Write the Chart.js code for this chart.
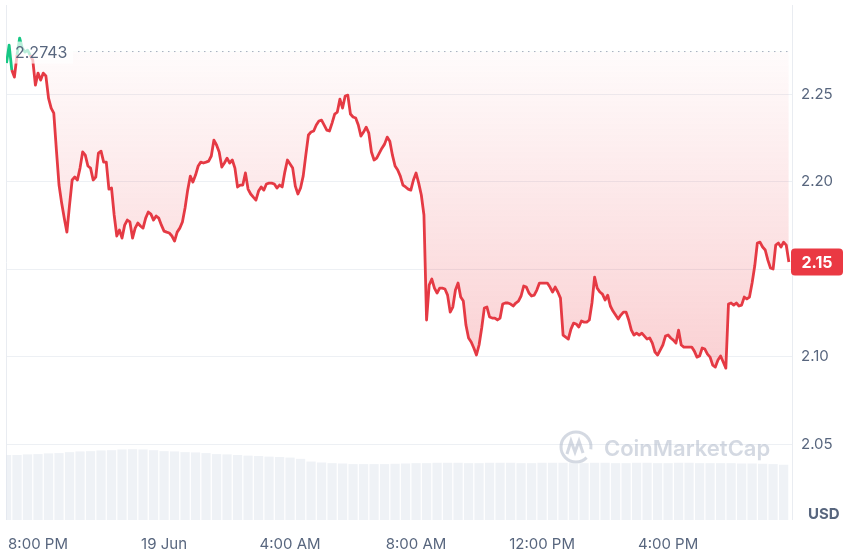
<!DOCTYPE html>
<html>
<head>
<meta charset="utf-8">
<script src="https://cdn.jsdelivr.net/npm/chart.js@4.4.1/dist/chart.umd.min.js"></script>
<style>
  html, body { margin: 0; padding: 0; background: #fff; }
  #wrap { width: 847px; height: 555px; position: relative; }
</style>
</head>
<body>
<div id="wrap"><canvas id="priceChart"></canvas></div>
<script>
// Price chart, 18 Jun 19:00 -> 19 Jun 19:50, 5 min steps
const BASE_PRICE = 2.2743;
const START_MIN = 1140;     // minutes from 18 Jun 00:00
const STEP_MIN = 5;
const VOL_STEP_MIN = 20;

const prices = [
  2.2677, 2.2780, 2.2637, 2.2597, 2.2723, 2.2820, 2.2763, 2.2740, 2.2751, 2.2723,
  2.2694, 2.2551, 2.2620, 2.2580, 2.2620, 2.2603, 2.2477, 2.2420, 2.2391, 2.2180,
  2.1980, 2.1877, 2.1791, 2.1711, 2.1866, 2.2009, 2.2026, 2.2009, 2.2077, 2.2169,
  2.2151, 2.2089, 2.2077, 2.2009, 2.2026, 2.2163, 2.2174, 2.2111, 2.2111, 2.1957,
  2.1963, 2.1809, 2.1689, 2.1723, 2.1677, 2.1751, 2.1780, 2.1769, 2.1677, 2.1734,
  2.1763, 2.1746, 2.1734, 2.1791, 2.1826, 2.1814, 2.1780, 2.1803, 2.1791, 2.1751,
  2.1717, 2.1711, 2.1706, 2.1689, 2.1660, 2.1711, 2.1734, 2.1769, 2.1849, 2.1951,
  2.2031, 2.1997, 2.2037, 2.2089, 2.2111, 2.2106, 2.2111, 2.2117, 2.2146, 2.2237,
  2.2209, 2.2169, 2.2083, 2.2106, 2.2134, 2.2106, 2.2123, 2.2077, 2.1969, 2.1980,
  2.1980, 2.2049, 2.1957, 2.1929, 2.1911, 2.1894, 2.1946, 2.1969, 2.1951, 2.1986,
  2.1991, 2.1991, 2.1986, 2.1963, 2.1980, 2.1969, 2.2054, 2.2123, 2.2100, 2.2077,
  2.1974, 2.1929, 2.1963, 2.2031, 2.2151, 2.2266, 2.2283, 2.2289, 2.2323, 2.2346,
  2.2351, 2.2323, 2.2294, 2.2289, 2.2334, 2.2386, 2.2397, 2.2471, 2.2420, 2.2489,
  2.2494, 2.2386, 2.2369, 2.2363, 2.2323, 2.2260, 2.2283, 2.2311, 2.2277, 2.2169,
  2.2123, 2.2134, 2.2163, 2.2191, 2.2214, 2.2254, 2.2231, 2.2151, 2.2089, 2.2066,
  2.2031, 2.1980, 2.1969, 2.1957, 2.1951, 2.2009, 2.2049, 2.1991, 2.1923, 2.1809,
  2.1209, 2.1409, 2.1443, 2.1391, 2.1363, 2.1391, 2.1391, 2.1386, 2.1351, 2.1254,
  2.1283, 2.1380, 2.1420, 2.1340, 2.1317, 2.1180, 2.1106, 2.1083, 2.1049, 2.1009,
  2.1066, 2.1163, 2.1277, 2.1283, 2.1226, 2.1220, 2.1220, 2.1209, 2.1220, 2.1300,
  2.1306, 2.1306, 2.1300, 2.1289, 2.1306, 2.1317, 2.1346, 2.1403, 2.1397, 2.1363,
  2.1346, 2.1351, 2.1380, 2.1420, 2.1420, 2.1420, 2.1420, 2.1397, 2.1369, 2.1397,
  2.1369, 2.1334, 2.1123, 2.1111, 2.1100, 2.1157, 2.1191, 2.1186, 2.1169, 2.1203,
  2.1197, 2.1197, 2.1209, 2.1306, 2.1454, 2.1391, 2.1369, 2.1357, 2.1323, 2.1351,
  2.1289, 2.1260, 2.1237, 2.1214, 2.1237, 2.1254, 2.1254, 2.1209, 2.1151, 2.1123,
  2.1134, 2.1123, 2.1134, 2.1117, 2.1100, 2.1106, 2.1077, 2.1026, 2.1009, 2.1037,
  2.1066, 2.1117, 2.1123, 2.1106, 2.1094, 2.1077, 2.1151, 2.1066, 2.1054, 2.1054,
  2.1054, 2.1054, 2.1031, 2.0997, 2.1003, 2.1049, 2.1043, 2.1014, 2.0997, 2.0951,
  2.0940, 2.0980, 2.1003, 2.0969, 2.0934, 2.1300, 2.1306, 2.1294, 2.1306, 2.1289,
  2.1294, 2.1340, 2.1329, 2.1340, 2.1420, 2.1517, 2.1649, 2.1654, 2.1626, 2.1609,
  2.1551, 2.1506, 2.1500, 2.1637, 2.1649, 2.1626, 2.1654, 2.1637, 2.1540
];

// 24h volume, billions USD, every 20 min
const volumes = [
  2.00, 2.00, 2.02, 2.03, 2.05, 2.06, 2.09, 2.11, 2.12, 2.14,
  2.15, 2.17, 2.18, 2.17, 2.15, 2.12, 2.11, 2.09, 2.08, 2.06,
  2.03, 2.02, 2.00, 1.98, 1.97, 1.95, 1.94, 1.92, 1.88, 1.80,
  1.77, 1.75, 1.74, 1.72, 1.72, 1.72, 1.72, 1.73, 1.74, 1.75,
  1.75, 1.76, 1.76, 1.76, 1.75, 1.75, 1.76, 1.76, 1.76, 1.75,
  1.75, 1.76, 1.76, 1.76, 1.75, 1.75, 1.76, 1.76, 1.75, 1.75,
  1.76, 1.76, 1.75, 1.75, 1.76, 1.76, 1.75, 1.75, 1.75, 1.75,
  1.74, 1.74, 1.73, 1.72, 1.70
];

const xTickMinutes = [1200, 1440, 1680, 1920, 2160, 2400];
const xTickLabels = ['8:00 PM', '19 Jun', '4:00 AM', '8:00 AM', '12:00 PM', '4:00 PM'];
const yTicks = [2.05, 2.10, 2.15, 2.20, 2.25];

const colors = {
    red: '#e53a44',
    green: '#16c784',
    grid: '#edf0f4',
    text: '#58667e',
    volume: 'rgba(226, 231, 238, 0.55)',
    watermark: 'rgba(170, 180, 198, 0.5)'
};
const FONT = "Inter, 'Noto Sans', sans-serif";

const pricePoints = prices.map((p, i) => ({ x: START_MIN + i * STEP_MIN, y: p }));
const volumePoints = volumes.map((v, i) => ({ x: START_MIN + i * VOL_STEP_MIN, y: v }));

// red fill fades out towards the baseline
function fillGradient(context) {
    const chart = context.chart;
    const { ctx, chartArea, scales } = chart;
    if (!chartArea || !scales.y) return 'rgba(234,57,67,0.1)';
    const top = scales.y.getPixelForValue(BASE_PRICE);
    const bottom = scales.y.getPixelForValue(2.09);
    const g = ctx.createLinearGradient(0, top, 0, bottom);
    g.addColorStop(0, 'rgba(234, 57, 67, 0.02)');
    g.addColorStop(1, 'rgba(234, 57, 67, 0.24)');
    return g;
}

const noPadding = (s) => {
    s.paddingTop = 0; s.paddingBottom = 0;
    s.paddingLeft = 0; s.paddingRight = 0;
};

const overlay = {
    id: 'overlay',
    beforeDatasetsDraw(chart) {
        const { ctx, chartArea: a } = chart;
        ctx.save();
        // borders
        ctx.strokeStyle = '#e9ecf1';
        ctx.lineWidth = 1;
        ctx.beginPath();
        ctx.moveTo(a.left + 0.5, a.top);
        ctx.lineTo(a.left + 0.5, a.bottom);
        ctx.moveTo(a.right + 0.5, a.top);
        ctx.lineTo(a.right + 0.5, a.bottom);
        ctx.stroke();
        // watermark
        const wx = a.right - 216, wy = a.bottom - 73;
        ctx.strokeStyle = colors.watermark;
        ctx.lineWidth = 3;
        ctx.beginPath();
        ctx.arc(wx, wy, 15, 0.25 * Math.PI, 2.05 * Math.PI);
        ctx.stroke();
        ctx.beginPath();
        ctx.moveTo(wx - 9, wy + 7);
        ctx.lineTo(wx - 5, wy - 6);
        ctx.lineTo(wx - 1, wy + 5);
        ctx.lineTo(wx + 3, wy - 6);
        ctx.lineTo(wx + 7, wy + 6);
        ctx.stroke();
        ctx.fillStyle = colors.watermark;
        ctx.font = '600 22px ' + FONT;
        ctx.textBaseline = 'middle';
        ctx.fillText('CoinMarketCap', wx + 28, wy + 2);
        ctx.restore();
    },
    afterDatasetsDraw(chart) {
        const { ctx, chartArea: a, scales } = chart;
        const by = scales.y.getPixelForValue(BASE_PRICE);
        ctx.save();
        // baseline dotted line
        ctx.strokeStyle = '#a7b0bf';
        ctx.lineWidth = 1;
        ctx.setLineDash([1.5, 4.5]);
        ctx.beginPath();
        ctx.moveTo(a.left + 72, by);
        ctx.lineTo(a.right, by);
        ctx.stroke();
        ctx.setLineDash([]);
        // baseline label
        ctx.fillStyle = 'rgba(255,255,255,0.7)';
        ctx.fillRect(a.left + 7, by - 10, 60, 22);
        ctx.fillStyle = colors.text;
        ctx.font = '16px ' + FONT;
        ctx.textBaseline = 'middle';
        ctx.fillText(BASE_PRICE.toFixed(4), a.left + 9, by + 2);
        ctx.restore();
    },
    afterDraw(chart) {
        const { ctx, chartArea: a, scales } = chart;
        const last = prices[prices.length - 1];
        const py = scales.y.getPixelForValue(last);
        ctx.save();
        // current price tag
        ctx.fillStyle = '#ea3943';
        ctx.beginPath();
        ctx.roundRect(a.right - 1, py - 13.5, 52, 27, 4);
        ctx.fill();
        ctx.fillStyle = '#fff';
        ctx.font = '700 16px ' + FONT;
        ctx.textAlign = 'center';
        ctx.textBaseline = 'middle';
        ctx.fillText(last.toFixed(2), a.right + 25, py + 1);
        // currency
        ctx.fillStyle = colors.text;
        ctx.font = '700 15px ' + FONT;
        ctx.textAlign = 'left';
        ctx.fillText('USD', a.right + 16, a.bottom - 6);
        ctx.restore();
    }
};

new Chart(document.getElementById('priceChart').getContext('2d'), {
    type: 'line',
    data: {
        datasets: [
            {
                type: 'line',
                label: 'Price',
                data: pricePoints,
                yAxisID: 'y',
                order: 1,
                borderColor: colors.red,
                borderWidth: 2.8,
                borderJoinStyle: 'round',
                pointRadius: 0,
                tension: 0,
                backgroundColor: fillGradient,
                fill: { target: { value: BASE_PRICE }, above: 'rgba(22, 199, 132, 0.08)' },
                segment: {
                    borderColor: (ctx) =>
                        (ctx.p0.parsed.y > BASE_PRICE || ctx.p1.parsed.y > BASE_PRICE) ? colors.green : colors.red
                }
            },
            {
                type: 'bar',
                label: 'Volume',
                data: volumePoints,
                yAxisID: 'yv',
                order: 2,
                backgroundColor: colors.volume,
                barPercentage: 0.88,
                categoryPercentage: 1
            }
        ]
    },
    options: {
        responsive: true,
        maintainAspectRatio: false,
        animation: false,
        layout: { padding: { left: 6, top: 5, right: 0, bottom: 0 } },
        plugins: {
            legend: { display: false },
            tooltip: { enabled: false }
        },
        scales: {
            x: {
                type: 'linear',
                offset: false,
                min: 1139,
                max: 2636,
                grid: { display: false },
                border: { display: false },
                afterBuildTicks: (s) => { s.ticks = xTickMinutes.map(v => ({ value: v })); },
                afterFit: (s) => { s.height = 35; noPadding(s); },
                ticks: {
                    autoSkip: false,
                    maxRotation: 0,
                    padding: 7,
                    color: colors.text,
                    font: { family: FONT, size: 15 },
                    callback: (v) => xTickLabels[xTickMinutes.indexOf(v)] ?? ''
                }
            },
            y: {
                position: 'right',
                min: 2.0066,
                max: 2.3009,
                grid: { color: colors.grid, drawTicks: false },
                border: { display: false },
                afterBuildTicks: (s) => { s.ticks = yTicks.map(v => ({ value: v })); },
                afterFit: (s) => { s.width = 55; noPadding(s); },
                ticks: {
                    padding: 9,
                    color: colors.text,
                    font: { family: FONT, size: 15 },
                    callback: (v) => v.toFixed(2)
                }
            },
            yv: {
                display: false,
                min: 0,
                max: 15.85
            }
        }
    },
    plugins: [overlay]
});
</script>
</body>
</html>
